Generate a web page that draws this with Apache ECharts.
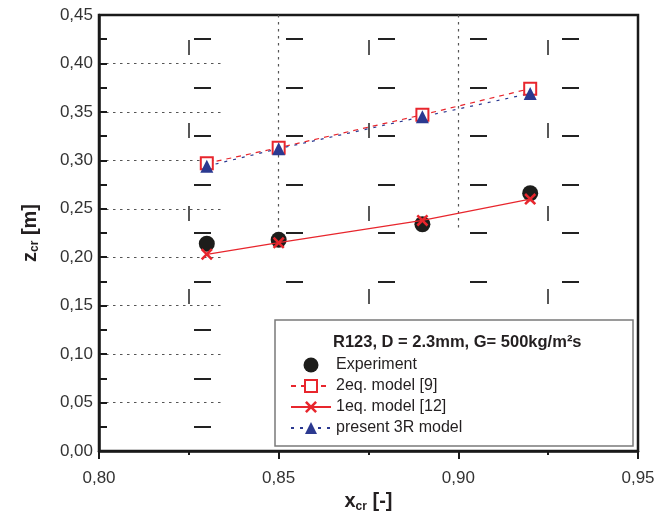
<!DOCTYPE html>
<html>
<head>
<meta charset="utf-8">
<script src="https://cdn.jsdelivr.net/npm/echarts@6/dist/echarts.min.js"></script>
<style>
  html, body { margin: 0; padding: 0; background: #fff; }
  #main { width: 658px; height: 525px; }
</style>
</head>
<body>
<div id="main"></div>
<script>
// values
const xCr = [0.83, 0.85, 0.89, 0.92];
const experiment = [0.214, 0.218, 0.234, 0.266];
const model2eq = [0.297, 0.313, 0.347, 0.374];
const model1eq = [0.203, 0.215, 0.238, 0.260];
const model3R = [0.294, 0.312, 0.345, 0.369];

const xTickLabels = ['0,80', '0,85', '0,90', '0,95'];
const yTickLabels = ['0,00', '0,05', '0,10', '0,15', '0,20', '0,25', '0,30', '0,35', '0,40', '0,45'];

const seriesNames = ['Experiment', '2eq. model [9]', '1eq. model [12]', 'present 3R model'];

const FONT = 'Liberation Sans, Arial, sans-serif';
const INK = '#231f20';
const RED = '#e8262d';
const BLUE = '#2b3990';

function pairs(ys) {
  return xCr.map((x, i) => [x, ys[i]]);
}

// dash array: gap `start`, then n dashes, then a long gap
function segs(start, dash, gap, n, tail) {
  let a = [0, start];
  for (let i = 0; i < n; i++) a.push(dash, gap);
  a[a.length - 1] = tail;
  return a;
}

const cross = 'path://M0,1.5L1.5,0L5,3.5L8.5,0L10,1.5L6.5,5L10,8.5L8.5,10L5,6.5L1.5,10L0,8.5L3.5,5Z';

let chart = echarts.init(document.getElementById('main'), null, { renderer: 'canvas' });

let option = {
  animation: false,
  backgroundColor: '#fff',
  grid: {
    left: 99,
    right: 20,
    top: 15,
    bottom: 74,
    show: true,
    borderColor: '#1a1a1a',
    borderWidth: 2.5
  },
  xAxis: {
    type: 'value',
    min: 0.80,
    max: 0.95,
    interval: 0.05,
    name: '{b|x}{s|cr}{b| [-]}',
    nameLocation: 'middle',
    nameGap: 37,
    nameTextStyle: {
      rich: {
        b: { fontSize: 20, fontWeight: 'bold', fontFamily: FONT, color: INK, lineHeight: 22 },
        s: { fontSize: 12, fontWeight: 'bold', fontFamily: FONT, color: INK, lineHeight: 4, verticalAlign: 'bottom' }
      }
    },
    axisLine: { lineStyle: { color: '#1a1a1a', width: 2.5 } },
    axisTick: { length: 8, lineStyle: { color: '#1a1a1a', width: 2 } },
    minorTick: { show: true, splitNumber: 2, length: 4, lineStyle: { color: '#1a1a1a', width: 2 } },
    axisLabel: {
      fontSize: 17,
      fontFamily: FONT,
      color: '#333',
      margin: 19,
      formatter: (v, i) => xTickLabels[i]
    },
    splitLine: {
      show: true,
      showMinLine: false,
      showMaxLine: false,
      lineStyle: { color: '#555', width: 1.2, type: segs(0, 2.5, 4.5, 31, 1000) }
    },
    minorSplitLine: {
      show: true,
      lineStyle: { color: '#222', width: 1.5, type: segs(25, 15, 68, 4, 1000) }
    }
  },
  yAxis: {
    type: 'value',
    min: 0,
    max: 0.45,
    interval: 0.05,
    name: '{b|z}{s|cr}{b| [m]}',
    nameLocation: 'middle',
    nameRotate: 90,
    nameGap: 58,
    nameTextStyle: {
      rich: {
        b: { fontSize: 20, fontWeight: 'bold', fontFamily: FONT, color: INK, lineHeight: 22 },
        s: { fontSize: 12, fontWeight: 'bold', fontFamily: FONT, color: INK, lineHeight: 4, verticalAlign: 'bottom' }
      }
    },
    axisLine: { lineStyle: { color: '#1a1a1a', width: 2.5 } },
    axisTick: { inside: true, length: 8, lineStyle: { color: '#1a1a1a', width: 2 } },
    minorTick: { show: true, splitNumber: 2, length: 8, lineStyle: { color: '#1a1a1a', width: 2 } },
    axisLabel: {
      fontSize: 17,
      fontFamily: FONT,
      color: '#333',
      margin: 6,
      formatter: (v, i) => yTickLabels[i]
    },
    splitLine: {
      show: true,
      showMinLine: false,
      showMaxLine: false,
      lineStyle: { color: '#555', width: 1.2, type: segs(0, 2.5, 4.5, 18, 1000) }
    },
    minorSplitLine: {
      show: true,
      lineStyle: { color: '#222', width: 1.8, type: segs(95, 17, 75, 5, 1000) }
    }
  },
  legend: {
    orient: 'vertical',
    left: 285,
    top: 352,
    itemWidth: 40,
    itemHeight: 15,
    itemGap: 5,
    z: 6,
    data: seriesNames,
    textStyle: { fontSize: 16, fontFamily: FONT, color: INK }
  },
  graphic: [
    {
      type: 'rect',
      z: 5,
      shape: { x: 275, y: 320, width: 358, height: 126 },
      style: { fill: '#fff', stroke: '#7a7a7a', lineWidth: 1.5 }
    },
    {
      type: 'text',
      z: 7,
      left: 333,
      top: 334,
      style: {
        text: 'R123, D = 2.3mm, G= 500kg/m²s',
        fontSize: 16.5,
        fontWeight: 'bold',
        fontFamily: FONT,
        fill: INK
      }
    }
  ],
  series: [
    {
      name: seriesNames[0],
      type: 'scatter',
      symbol: 'circle',
      symbolSize: 16,
      itemStyle: { color: '#1d1d1b', opacity: 1 },
      data: pairs(experiment)
    },
    {
      name: seriesNames[1],
      type: 'line',
      symbol: 'rect',
      symbolSize: 12,
      itemStyle: { color: '#fff', borderColor: RED, borderWidth: 2 },
      lineStyle: { color: RED, width: 1.2, type: [5, 5] },
      data: pairs(model2eq)
    },
    {
      name: seriesNames[2],
      type: 'line',
      symbol: cross,
      symbolSize: 12,
      itemStyle: { color: RED },
      lineStyle: { color: RED, width: 1.2, type: 'solid' },
      data: pairs(model1eq)
    },
    {
      name: seriesNames[3],
      type: 'line',
      symbol: 'triangle',
      symbolSize: 13,
      itemStyle: { color: BLUE },
      lineStyle: { color: BLUE, width: 1.2, type: [3, 6] },
      data: pairs(model3R)
    }
  ]
};

chart.setOption(option);
</script>
</body>
</html>
